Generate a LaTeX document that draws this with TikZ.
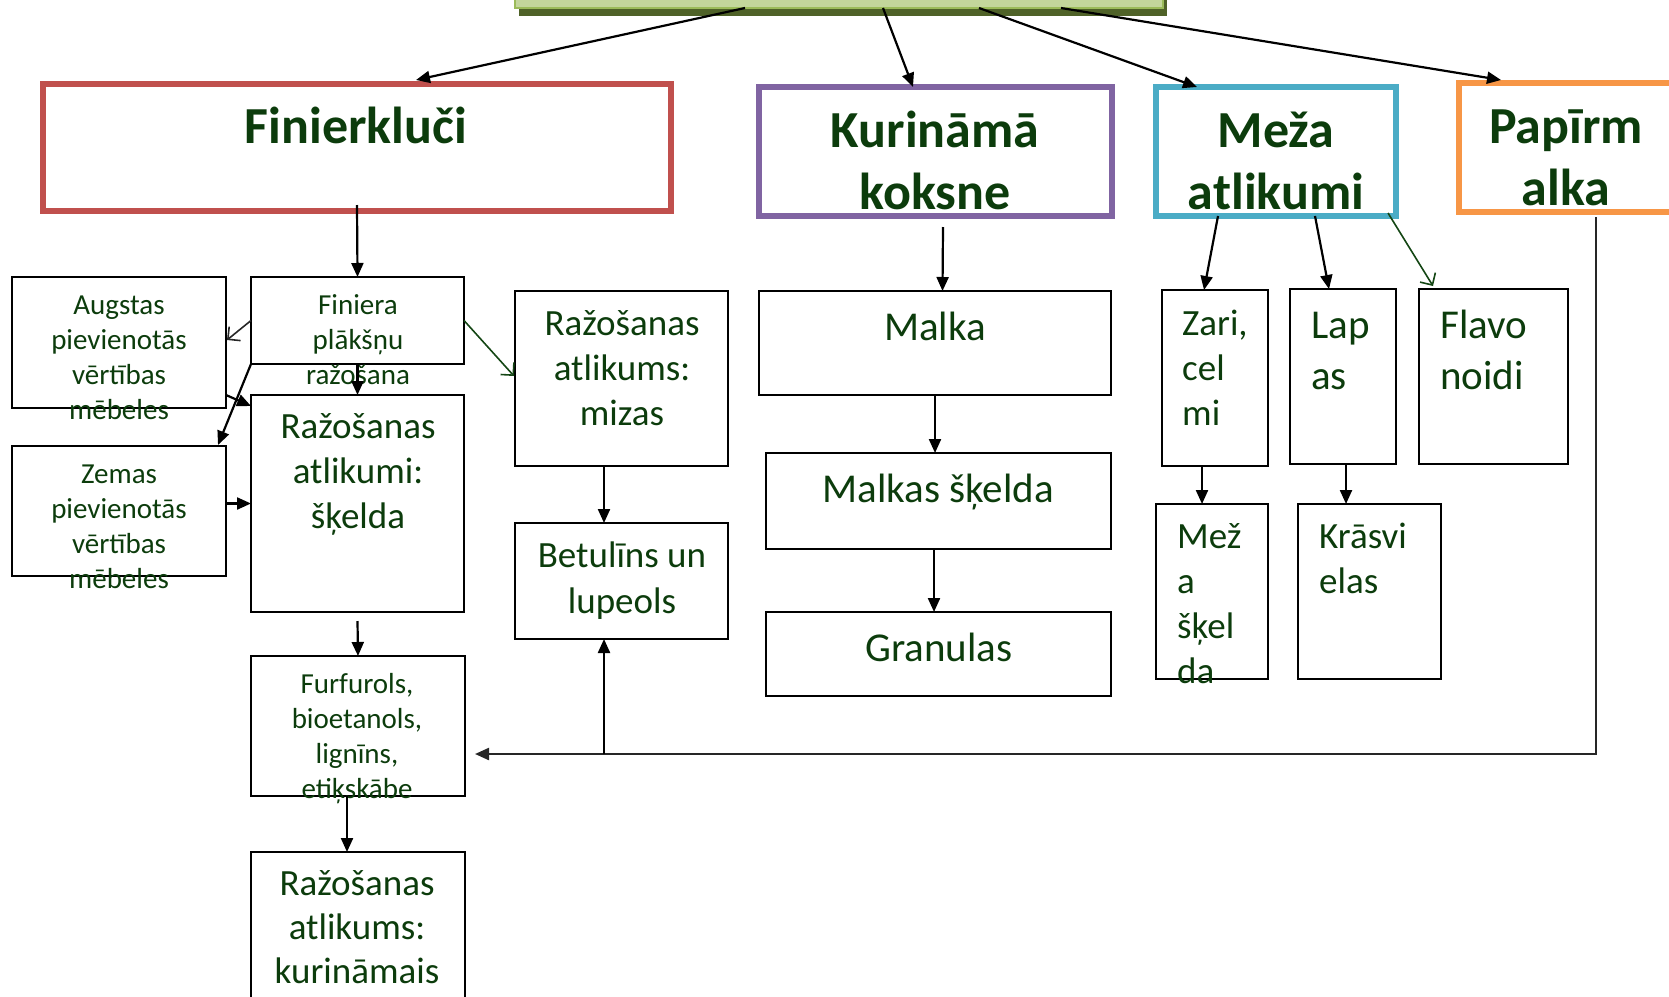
\documentclass[tikz,border=0pt]{standalone}
\usepackage{fontspec}
\setmainfont{Carlito}
\usetikzlibrary{arrows.meta}
\definecolor{tg}{RGB}{12,60,12}
\definecolor{cred}{HTML}{C0504D}
\definecolor{cpur}{HTML}{8064A2}
\definecolor{cblu}{HTML}{4BACC6}
\definecolor{cora}{HTML}{F79646}
\definecolor{gfill}{HTML}{C3D69B}
\definecolor{gdraw}{HTML}{9BBB59}
\definecolor{gshad}{HTML}{4F6228}
\definecolor{cgreen}{RGB}{20,70,20}
\tikzset{
  bx/.style={draw=black, line width=2pt, inner sep=0pt, outer sep=0pt, anchor=north west},
  big/.style={line width=6pt, inner sep=0pt, outer sep=0pt, anchor=north west},
  con/.style={draw=black, line width=2.2pt, -{Triangle[length=14pt,width=12pt]}},
  opn/.style={line width=1.6pt, -{Straight Barb[length=9pt,width=18pt,line width=1.6pt]}},
  lbl/.style={text=tg, inner sep=0pt, align=center, anchor=base},
  lbll/.style={text=tg, inner sep=0pt, align=left, anchor=base west},
  fH/.style={font=\fontsize{52}{62}\selectfont\bfseries},
  fS/.style={font=\fontsize{29}{35}\selectfont},
  fM/.style={font=\fontsize{37}{45}\selectfont},
  fL/.style={font=\fontsize{41}{51}\selectfont},
}
\begin{document}
\begin{tikzpicture}[x=1pt,y=-1pt]
\useasboundingbox (0,0) rectangle (1669,996);
% top box
\fill[gshad] (519,0) rectangle (1167,16);
\node[draw=gdraw, fill=gfill, line width=2pt, inner sep=0pt, outer sep=0pt, anchor=north west, minimum width=648pt, minimum height=38pt] (top) at (515,-30) {};
% level 1
\node[big, draw=cred, minimum width=628pt, minimum height=127pt] (fin) at (43,84) {};
\node[big, draw=cpur, minimum width=353pt, minimum height=129pt] (kur) at (759,87) {};
\node[big, draw=cblu, minimum width=240pt, minimum height=129pt] (meza) at (1156,87) {};
\node[big, draw=cora, minimum width=260pt, minimum height=129pt] (pap) at (1459,83) {};
\node[lbl, fH] (tfin) at (356,143) {Finierkluči};
\node[lbl, fH] (tkur) at (935,209) {Kurināmā\\koksne};
\node[lbl, fH] (tmeza) at (1276,209) {Meža\\atlikumi};
\node[lbl, fH] (tpap) at (1566,205) {Papīrm\\alka};
% left column
\node[bx, minimum width=214pt, minimum height=131pt] (aug) at (12,277) {};
\node[bx, minimum width=213pt, minimum height=87pt] (finiera) at (251,277) {};
\node[bx, minimum width=214pt, minimum height=130pt] (zem) at (12,446) {};
\node[bx, minimum width=213pt, minimum height=217pt] (skel) at (251,395) {};
\node[bx, minimum width=214pt, minimum height=140pt] (furf) at (251,656) {};
\node[bx, minimum width=214pt, minimum height=170pt] (kurm) at (251,852) {};
\node[lbl, fS] (taug) at (119,419) {Augstas\\pievienotās\\vērtības\\mēbeles};
\node[lbl, fS] (tfiniera) at (358,384) {Finiera\\plākšņu\\ražošana};
\node[lbl, fS] (tzem) at (119,588) {Zemas\\pievienotās\\vērtības\\mēbeles};
\node[lbl, fM] (tskel) at (358,528) {Ražošanas\\atlikumi:\\šķelda};
\node[lbl, fS] (tfurf) at (357,798) {Furfurols,\\bioetanols,\\lignīns,\\etiķskābe};
\node[lbl, fM, font=\fontsize{37}{44}\selectfont] (tkurm) at (357,983) {Ražošanas\\atlikums:\\kurināmais};
% middle column
\node[bx, minimum width=213pt, minimum height=175pt] (miz) at (515,291) {};
\node[bx, minimum width=213pt, minimum height=116pt] (bet) at (515,523) {};
\node[lbl, fM] (tmiz) at (622,425) {Ražošanas\\atlikums:\\mizas};
\node[lbl, fM, font=\fontsize{37}{46}\selectfont] (tbet) at (622,613) {Betulīns un\\lupeols};
\node[bx, minimum width=352pt, minimum height=104pt] (malka) at (759,291) {};
\node[bx, minimum width=345pt, minimum height=96pt] (mskel) at (766,453) {};
\node[bx, minimum width=345pt, minimum height=84pt] (gran) at (766,612) {};
\node[lbl, fL] (tmalka) at (935,340) {Malka};
\node[lbl, fL] (tmskel) at (938,502) {Malkas šķelda};
\node[lbl, fL] (tgran) at (939,661) {Granulas};
% right column
\node[bx, minimum width=106pt, minimum height=176pt] (zari) at (1162,290) {};
\node[bx, minimum width=106pt, minimum height=175pt] (lapas) at (1290,289) {};
\node[bx, minimum width=149pt, minimum height=175pt] (flav) at (1419,289) {};
\node[bx, minimum width=112pt, minimum height=175pt] (mezsk) at (1156,504) {};
\node[bx, minimum width=143pt, minimum height=175pt] (kras) at (1298,504) {};
\node[lbll, fM] (tzari) at (1182,425) {Zari,\\cel\\mi};
\node[lbll, fL] (tlapas) at (1311,389) {Lap\\as};
\node[lbll, fL] (tflav) at (1440,389) {Flavo\\noidi};
\node[lbll, fM] (tmezsk) at (1177,683) {Mež\\a\\šķel\\da};
\node[lbll, fM] (tkras) at (1319,593) {Krāsvi\\elas};
% connectors from top
\draw[con] ([xshift=-94pt]top.south) -- ([xshift=59pt,yshift=4pt]fin.north);
\draw[con] ([xshift=44pt]top.south) -- ([xshift=-22.5pt]kur.north);
\draw[con] ([xshift=140pt]top.south) -- ([xshift=-79pt]meza.north);
\draw[con] ([xshift=222pt]top.south) -- ([xshift=-88pt,yshift=3pt]pap.north);
% left column connectors
\draw[con] ([yshift=6pt]fin.south) -- (finiera.north);
\draw[opn, draw=black!85] (finiera.west) -- ([xshift=1pt,yshift=2.5pt]aug.east);
\draw[con] (finiera.south west) -- ([xshift=-8pt,yshift=1pt]zem.north east);
\draw[con] ([yshift=13pt]aug.south east) -- ([yshift=-11pt]skel.north west);
\draw[con] (zem.east |- skel.west) -- (skel.west);
\draw[con] (finiera.south) -- (skel.north);
\draw[opn, draw=cgreen] (finiera.east) -- ([xshift=-1pt,yshift=2.5pt]miz.west);
\draw[con] ([yshift=-9pt]skel.south) -- (furf.north);
\draw[con] ([xshift=-11pt]furf.south) -- ([xshift=-11pt]kurm.north);
% middle connectors
\draw[con] ([xshift=-17.5pt]miz.south) -- ([xshift=-17.5pt]bet.north);
\draw[con] ([xshift=7.5pt,yshift=-11pt]kur.south) -- ([xshift=7.5pt]malka.north);
\draw[con] (malka.south) -- (malka.south |- mskel.north);
\draw[con] ([xshift=-4.5pt]mskel.south) -- ([xshift=-4.5pt]gran.north);
% right connectors
\draw[con] ([xshift=-58pt]meza.south) -- ([xshift=-11pt]zari.north);
\draw[con] ([xshift=39pt]meza.south) -- ([xshift=-14pt]lapas.north);
\draw[opn, draw=cgreen] ([xshift=-8pt,yshift=3pt]meza.south east) -- ([xshift=14pt,yshift=3pt]flav.north west);
\draw[con] ([xshift=-13pt]zari.south) -- ([xshift=-10pt]mezsk.north);
\draw[con] ([xshift=3pt]lapas.south) -- ([xshift=-23.5pt]kras.north);
% bottom return line
\coordinate (corner) at (1596,754);
\coordinate (bj) at (604,754);
\coordinate (fe) at ([xshift=10pt]furf.east);
\draw[con, draw=black!85] ([xshift=7pt,yshift=-5pt]pap.south) -- (corner) -- (fe |- corner);
\draw[con] (bj) -- (bj |- bet.south);
\end{tikzpicture}
\end{document}
